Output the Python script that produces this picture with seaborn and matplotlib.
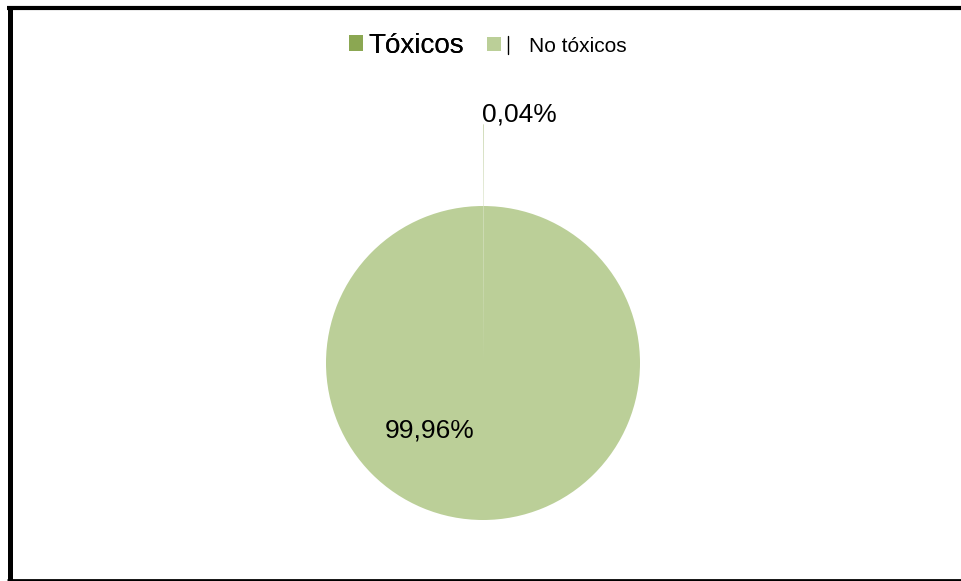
import matplotlib
matplotlib.use("Agg")
import matplotlib.pyplot as plt
from matplotlib.lines import Line2D
import seaborn as sns

# Data
categories = ["Tóxicos", "No tóxicos"]
shares = [0.04, 99.96]
colors = ["#8BA752", "#BBCF98"]
explode = [0.52, 0.0]

sns.set_theme(style="white")
plt.rcParams["font.family"] = ["Liberation Sans", "DejaVu Sans"]
plt.rcParams["text.color"] = "black"

W, H = 962, 581
fig = plt.figure(figsize=(W / 100, H / 100), dpi=100)
fig.patch.set_facecolor("white")

# Pie axes: square in pixels, centred at (483, 363) from top-left, radius 157 px
R_PX = 157
cx, cy = 483, H - 363
half = 250
ax = fig.add_axes([(cx - half) / W, (cy - half) / H, 2 * half / W, 2 * half / H])
lim = half / R_PX

wedges, _ = ax.pie(
    shares,
    colors=colors,
    explode=explode,
    startangle=90,
    counterclock=False,
    wedgeprops=dict(linewidth=0, edgecolor="none"),
)
for w in wedges:
    w.set_clip_on(False)
ax.set_xlim(-lim, lim)
ax.set_ylim(-lim, lim)
ax.set_aspect("equal")
ax.axis("off")

def fmt(v):
    return f"{v:.2f}%".replace(".", ",")

ax.text(0.23, 1.58, fmt(shares[0]), ha="center", va="center", fontsize=19, color="black")
ax.text(-0.34, -0.43, fmt(shares[1]), ha="center", va="center", fontsize=19, color="black")

# Legend at top: one entry per legend so each keeps its own size and spacing
y_leg = 1 - 46 / H
leg1 = fig.legend(
    handles=[wedges[0]], labels=[categories[0]],
    loc="center left", bbox_to_anchor=(349 / W, y_leg),
    frameon=False, borderpad=0, borderaxespad=0,
    handlelength=0.52, handleheight=0.52, handletextpad=0.17,
    fontsize=20, labelcolor="black",
)
leg2 = fig.legend(
    handles=[wedges[1]], labels=[categories[1]],
    loc="center left", bbox_to_anchor=(487 / W, y_leg),
    frameon=False, borderpad=0, borderaxespad=0,
    handlelength=0.68, handleheight=0.68, handletextpad=1.33,
    fontsize=15, labelcolor="black",
)
fig.add_artist(leg1)
fig.add_artist(Line2D([508 / W, 508 / W], [1 - 36 / H, 1 - 54 / H], color="black", lw=1,
                      transform=fig.transFigure))

# Frame around the chart
fig.add_artist(Line2D([7 / W, 1.0], [1 - 7.5 / H, 1 - 7.5 / H], color="black", lw=3,
                      solid_capstyle="butt", transform=fig.transFigure))
fig.add_artist(Line2D([9.5 / W, 9.5 / W], [1 - 5.5 / H, 0.0], color="black", lw=3.6,
                      solid_capstyle="butt", transform=fig.transFigure))
fig.add_artist(Line2D([7 / W, 1.0], [1.5 / H, 1.5 / H], color="black", lw=2,
                      solid_capstyle="butt", transform=fig.transFigure))

fig.savefig("out.png", dpi=100, facecolor="white")
